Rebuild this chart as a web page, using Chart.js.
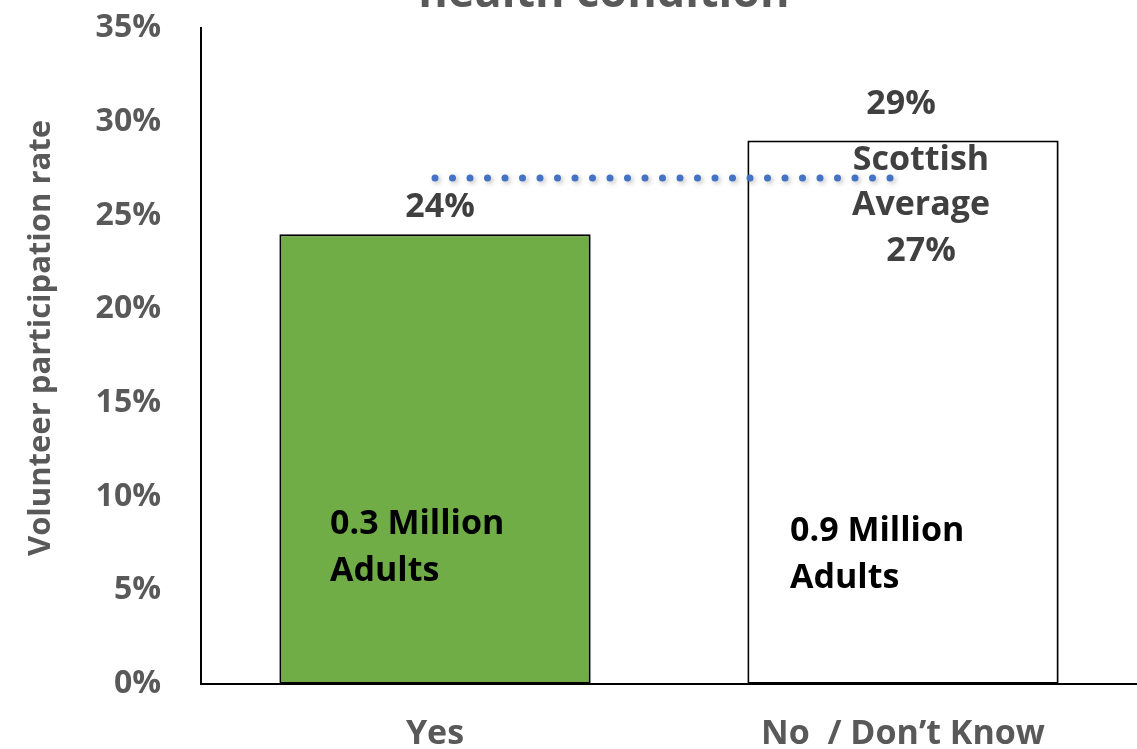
<!DOCTYPE html>
<html>
<head>
<meta charset="utf-8">
<script src="https://cdn.jsdelivr.net/npm/chart.js@4.4.1/dist/chart.umd.min.js"></script>
<style>
  html, body { margin: 0; padding: 0; background: #fff; }
  #wrap { width: 1137px; height: 749px; position: relative; }
</style>
</head>
<body>
<div id="wrap"><canvas id="chart" width="1137" height="749"></canvas></div>
<script>
const categories = ['Yes', 'No  / Don\u2019t Know'];
const rates = [24, 29];
const barColors = ['#70AD47', '#FFFFFF'];
const adults = [['0.3 Million', 'Adults'], ['0.9 Million', 'Adults']];
const scottishAverage = 27;
const averageLabel = ['Scottish', 'Average', '27%'];
const yTicks = [0, 5, 10, 15, 20, 25, 30, 35];
const titleText = 'health condition';
const yTitle = 'Volunteer participation rate';

const FONT = '"Open Sans", sans-serif';
const GREY = '#595959';

const shadowPlugin = {
  id: 'shadows',
  beforeDatasetDraw(chart) {
    const ctx = chart.ctx;
    ctx.save();
    ctx.shadowColor = 'rgba(0,0,0,0.25)';
    ctx.shadowBlur = 5;
    ctx.shadowOffsetX = 2;
    ctx.shadowOffsetY = 2;
  },
  afterDatasetDraw(chart) {
    chart.ctx.restore();
  },
};

const labelsPlugin = {
  id: 'labels',
  afterDraw(chart) {
    const { ctx, scales } = chart;
    const x = scales.x;
    const y = scales.y;
    ctx.save();

    // cut-off title
    ctx.font = 'bold 45px ' + FONT;
    ctx.fillStyle = GREY;
    ctx.textAlign = 'center';
    ctx.textBaseline = 'alphabetic';
    ctx.fillText(titleText, 604, 7);

    // y axis title, sits a bit above the middle
    ctx.save();
    ctx.translate(41, 338);
    ctx.rotate(-Math.PI / 2);
    ctx.textBaseline = 'middle';
    ctx.font = 'bold 31px ' + FONT;
    ctx.fillText(yTitle, 0, 0);
    ctx.restore();

    ctx.textBaseline = 'middle';
    ctx.font = 'bold 34px ' + FONT;
    ctx.fillStyle = '#404040';
    // value labels
    ctx.fillText(rates[0] + '%', x.getPixelForValue(0) + 5, y.getPixelForValue(rates[0]) - 27);
    ctx.fillText(rates[1] + '%', x.getPixelForValue(1) - 2, y.getPixelForValue(rates[1]) - 36);

    // average annotation
    const ay = y.getPixelForValue(scottishAverage);
    averageLabel.forEach((t, i) => {
      ctx.fillText(t, x.getPixelForValue(1) + 18, ay - 18 + i * 45.5);
    });

    // adults counts
    ctx.fillStyle = '#000';
    ctx.textAlign = 'left';
    adults.forEach((lines, i) => {
      const left = x.getPixelForValue(i) - 105 - (i ? 8 : 0);
      const top = y.getPixelForValue(8.5) + (i ? 7 : 0);
      lines.forEach((t, j) => ctx.fillText(t, left, top + j * 47));
    });
    ctx.restore();
  },
};

new Chart(document.getElementById('chart'), {
  type: 'bar',
  data: {
    labels: categories,
    datasets: [
      {
        type: 'line',
        data: categories.map(() => scottishAverage),
        borderColor: '#4472C4',
        borderWidth: 7,
        borderDash: [0, 17.5],
        borderCapStyle: 'round',
        pointRadius: 0,
        fill: false,
        order: 0,
      },
      {
        data: rates,
        backgroundColor: barColors,
        borderColor: '#000',
        borderWidth: 2,
        borderSkipped: false,
        categoryPercentage: 1,
        barPercentage: 0.665,
        order: 1,
      },
    ],
  },
  options: {
    responsive: false,
    animation: false,
    layout: { padding: { top: 28, right: 0, left: 0, bottom: 0 } },
    plugins: {
      legend: { display: false },
      tooltip: { enabled: false },
      title: { display: false },
    },
    scales: {
      x: {
        grid: { display: false, drawTicks: false },
        border: { display: true, color: '#000', width: 2 },
        ticks: {
          color: GREY,
          font: { family: FONT, size: 34, weight: 'bold' },
          padding: 30,
        },
        afterFit(scale) { scale.height = 65; },
      },
      y: {
        min: 0,
        max: 35,
        afterBuildTicks(scale) { scale.ticks = yTicks.map((v) => ({ value: v })); },
        grid: { display: false, drawTicks: false },
        border: { display: true, color: '#000', width: 2 },
        ticks: {
          color: GREY,
          font: { family: FONT, size: 32, weight: 'bold' },
          padding: 40,
          callback: (v) => v + '%',
        },
        afterFit(scale) {
          scale.width = 201;
          scale.paddingTop = 0;
          scale.paddingBottom = 0;
        },
      },
    },
  },
  plugins: [shadowPlugin, labelsPlugin],
});
</script>
</body>
</html>
